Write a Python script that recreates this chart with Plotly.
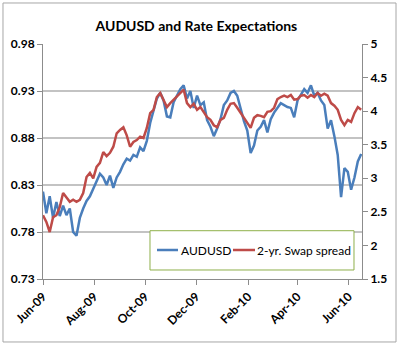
import pandas as pd
import plotly.graph_objects as go

# Observation dates (every 4 calendar days)
dates = pd.date_range("2009-06-01", periods=96, freq="4D")

audusd = [
    0.823, 0.800, 0.818, 0.795, 0.812, 0.797, 0.808, 0.798, 0.805, 0.780,
    0.776, 0.795, 0.805, 0.813, 0.818, 0.826, 0.833, 0.842, 0.838, 0.830,
    0.840, 0.827, 0.838, 0.844, 0.852, 0.858, 0.856, 0.862, 0.860, 0.870,
    0.866, 0.877, 0.896, 0.908, 0.922, 0.928, 0.920, 0.903, 0.902, 0.918,
    0.925, 0.932, 0.936, 0.922, 0.930, 0.912, 0.925, 0.915, 0.918, 0.899,
    0.892, 0.882, 0.890, 0.900, 0.915, 0.920, 0.928, 0.930, 0.925, 0.910,
    0.898, 0.888, 0.864, 0.872, 0.888, 0.892, 0.899, 0.886, 0.900, 0.907,
    0.912, 0.917, 0.915, 0.913, 0.912, 0.902, 0.920, 0.926, 0.932, 0.928,
    0.936, 0.925, 0.928, 0.920, 0.915, 0.890, 0.899, 0.882, 0.862, 0.817,
    0.848, 0.844, 0.825, 0.838, 0.855, 0.863,
]

swap_spread = [
    2.45, 2.35, 2.20, 2.42, 2.45, 2.57, 2.78, 2.71, 2.65, 2.68,
    2.65, 2.68, 2.78, 3.02, 3.08, 3.00, 3.17, 3.23, 3.39, 3.33,
    3.38, 3.47, 3.67, 3.72, 3.76, 3.64, 3.47, 3.54, 3.57, 3.62,
    3.60, 3.75, 3.97, 4.02, 4.21, 4.27, 4.17, 4.06, 4.12, 4.17,
    4.21, 4.27, 4.32, 4.12, 4.06, 4.11, 4.02, 4.06, 3.99, 3.91,
    3.87, 3.79, 3.76, 3.87, 3.90, 4.02, 4.11, 4.12, 4.05, 3.97,
    3.90, 3.81, 3.75, 3.90, 3.94, 3.93, 3.91, 3.99, 4.00, 4.05,
    4.18, 4.21, 4.23, 4.21, 4.24, 4.17, 4.18, 4.23, 4.24, 4.20,
    4.24, 4.21, 4.27, 4.23, 4.26, 4.23, 4.12, 4.08, 4.02, 3.87,
    3.79, 3.87, 3.84, 3.97, 4.06, 4.02,
]

series_names = ["AUDUSD", "2-yr. Swap spread"]
series_colors = ["#4a7ebb", "#be4b48"]

left_ticks = [0.73, 0.78, 0.83, 0.88, 0.93, 0.98]
right_ticks = [1.5, 2, 2.5, 3, 3.5, 4, 4.5, 5]

FONT = "Lato, 'Open Sans', sans-serif"
GRID = "#c3c3c3"
AXIS = "#8c8c8c"

fig = go.Figure()
fig.add_trace(go.Scatter(
    x=dates, y=audusd, name=series_names[0], mode="lines",
    line=dict(color=series_colors[0], width=2.5), yaxis="y", showlegend=False,
))
fig.add_trace(go.Scatter(
    x=dates, y=swap_spread, name=series_names[1], mode="lines",
    line=dict(color=series_colors[1], width=2.5), yaxis="y2", showlegend=False,
))

# Excel-style legend box (bottom right of the plot area)
leg_y = 0.1234
legend_shapes = [
    dict(type="rect", xref="paper", yref="paper", x0=0.3354, x1=0.9749, y0=0.0383, y1=0.2055,
         line=dict(color="#8fb04a", width=1), fillcolor="white", layer="above"),
    dict(type="line", xref="paper", yref="paper", x0=0.3574, x1=0.4232, y0=leg_y, y1=leg_y,
         line=dict(color=series_colors[0], width=2.5), layer="above"),
    dict(type="line", xref="paper", yref="paper", x0=0.5956, x1=0.6646, y0=leg_y, y1=leg_y,
         line=dict(color=series_colors[1], width=2.5), layer="above"),
]
legend_texts = [
    dict(text=series_names[0], xref="paper", yref="paper", x=0.4265, y=leg_y,
         xanchor="left", yanchor="middle", showarrow=False,
         font=dict(size=12, family=FONT, color="black")),
    dict(text=series_names[1], xref="paper", yref="paper", x=0.6650, y=leg_y,
         xanchor="left", yanchor="middle", showarrow=False,
         font=dict(size=12, family=FONT, color="black")),
]

fig.update_layout(
    width=400, height=345,
    margin=dict(l=43, r=38, t=44, b=66),
    paper_bgcolor="white", plot_bgcolor="white",
    font=dict(family=FONT, color="black"),
    title=dict(text="<b>AUDUSD and Rate Expectations</b>", x=0.491, xanchor="center",
               y=0.925, yanchor="middle", font=dict(size=14, family=FONT)),
    showlegend=False,
    xaxis=dict(
        type="date", range=["2009-06-01", "2010-06-17"],
        tick0="2009-06-01", dtick="M2", tickformat="%b-%y",
        tickangle=-45, ticks="outside", ticklen=5, tickcolor=AXIS,
        showgrid=False, showline=True, linecolor=AXIS, linewidth=1,
        tickfont=dict(size=12, family=FONT, color="black", weight="bold"),
        zeroline=False,
    ),
    yaxis=dict(
        range=[0.73, 0.98], tickvals=left_ticks,
        ticktext=[f"{v:.2f}" for v in left_ticks],
        ticks="outside", ticklen=5, tickcolor=AXIS,
        showgrid=True, gridcolor=GRID, gridwidth=2,
        showline=True, linecolor=AXIS, linewidth=1,
        tickfont=dict(size=12, family=FONT, color="black", weight="bold"),
        zeroline=False,
    ),
    yaxis2=dict(
        range=[1.5, 5], tickvals=right_ticks,
        ticktext=[f"{v:g}" for v in right_ticks],
        overlaying="y", side="right",
        ticks="outside", ticklen=5, tickcolor=AXIS,
        showgrid=False, showline=True, linecolor=AXIS, linewidth=1,
        tickfont=dict(size=12, family=FONT, color="black", weight="bold"),
        zeroline=False,
    ),
    shapes=[dict(
        type="rect", xref="paper", yref="paper",
        x0=-0.1254, x1=1.1066, y0=-0.268, y1=1.1745,
        line=dict(color="#a6a6a6", width=1), fillcolor="rgba(0,0,0,0)", layer="below",
    )] + legend_shapes,
    annotations=legend_texts,
)

fig.write_html("out.html")
